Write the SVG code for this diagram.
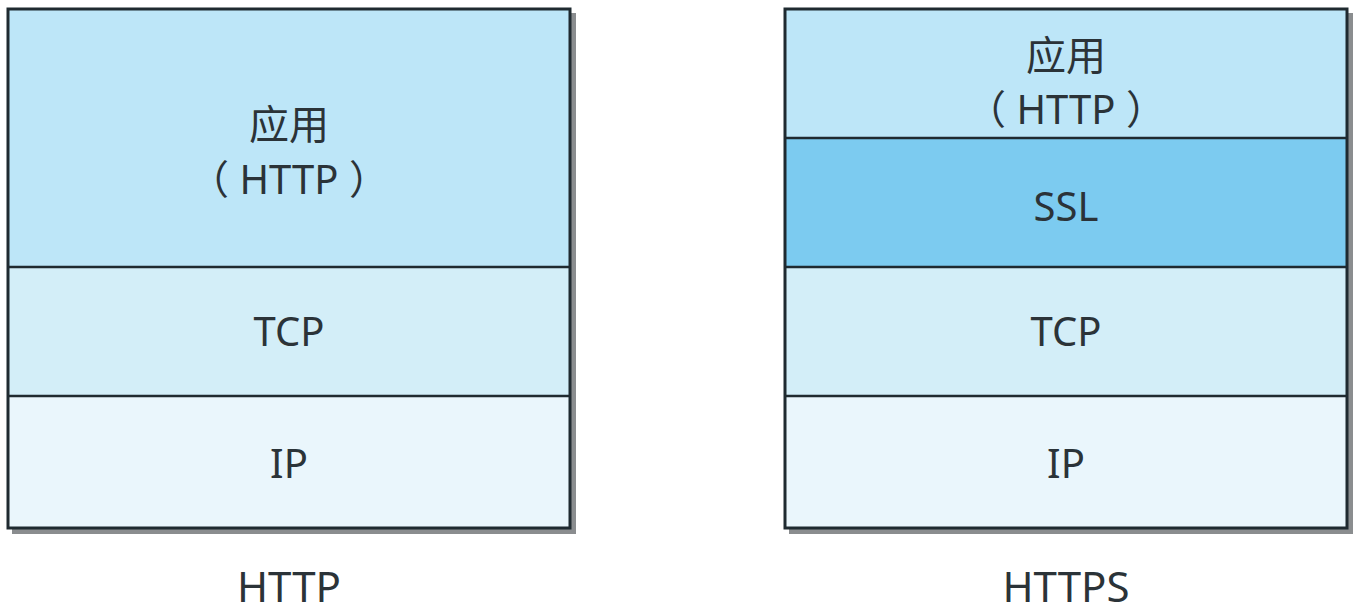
<svg xmlns="http://www.w3.org/2000/svg" width="1364" height="614" viewBox="0 0 1364 614">
<defs>
<style>
.t{font-family:"Noto Sans","Noto Sans CJK SC",sans-serif;font-size:40px;fill:#2b3338;text-anchor:middle;dominant-baseline:central}
.lbl{font-family:"Noto Sans",sans-serif;font-size:42px;fill:#2b3338;text-anchor:middle}
.ln{stroke:#1f2a30;stroke-width:2.5}
.sh{fill:#8a8d8f}
.bd{fill:none;stroke:#1f2a30;stroke-width:3}
</style>
</defs>
<g id="http-stack">
<rect class="sh" x="12" y="13" width="564" height="521"/>
<g id="http-app"><rect x="8" y="9" width="562" height="258" fill="#bde6f8"/><text class="t" x="289" y="123">应用</text><text class="t" x="289" y="178">（ HTTP ）</text></g>
<g id="http-tcp"><rect x="8" y="267" width="562" height="129" fill="#d3eef8"/><text class="t" x="289" y="330">TCP</text></g>
<g id="http-ip"><rect x="8" y="396" width="562" height="132" fill="#eaf6fc"/><text class="t" x="289" y="462">IP</text></g>
<line class="ln" x1="8" y1="267" x2="570" y2="267"/>
<line class="ln" x1="8" y1="396" x2="570" y2="396"/>
<rect class="bd" x="8" y="9" width="562" height="519"/>
<text class="lbl" x="289" y="602">HTTP</text>
</g>
<g id="https-stack">
<rect class="sh" x="789" y="13" width="564" height="521"/>
<g id="https-app"><rect x="785" y="9" width="562" height="129" fill="#bde6f8"/><text class="t" x="1066" y="54">应用</text><text class="t" x="1066" y="108">（ HTTP ）</text></g>
<g id="https-ssl"><rect x="785" y="138" width="562" height="129" fill="#7ccbf0"/><text class="t" x="1066" y="205">SSL</text></g>
<g id="https-tcp"><rect x="785" y="267" width="562" height="129" fill="#d3eef8"/><text class="t" x="1066" y="330">TCP</text></g>
<g id="https-ip"><rect x="785" y="396" width="562" height="132" fill="#eaf6fc"/><text class="t" x="1066" y="462">IP</text></g>
<line class="ln" x1="785" y1="138" x2="1347" y2="138"/>
<line class="ln" x1="785" y1="267" x2="1347" y2="267"/>
<line class="ln" x1="785" y1="396" x2="1347" y2="396"/>
<rect class="bd" x="785" y="9" width="562" height="519"/>
<text class="lbl" x="1066" y="602">HTTPS</text>
</g>
</svg>
